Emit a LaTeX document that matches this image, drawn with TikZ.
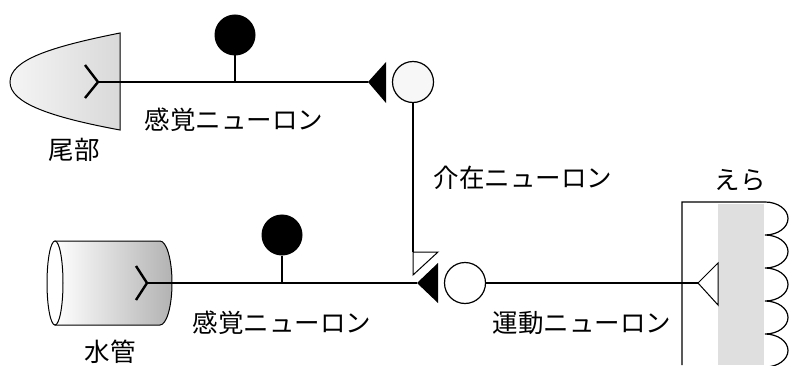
\documentclass[tikz,border=0pt]{standalone}
\usepackage{fontspec}
\newfontfamily\jp{Noto Sans CJK JP}
\usetikzlibrary{calc}
\tikzset{
  axon/.style = {line width=2.4pt},
  stem/.style = {line width=1.8pt},
  soma/.style = {circle, draw, line width=1pt, fill=black, minimum size=40pt, inner sep=0pt},
  cell/.style = {circle, draw, line width=1.2pt, fill=white, minimum size=41pt, inner sep=0pt},
  lbl/.style = {font=\jp\fontsize{25.5}{30}\selectfont, inner sep=0pt},
}

\begin{document}
\begin{tikzpicture}[x = 1pt, y = 1pt]
            \useasboundingbox (0,0) rectangle (792,365);
            \draw[line width=1pt, shading=axis, left color=gray!8, right color=gray!30] (120,332) .. controls (50,318) and (10,305) .. (10,283) .. controls (10,262) and (50,248) .. (120,235) -- cycle;
            \draw[line width=1pt, shading=axis, left color=white, right color=gray!60] (55,124) -- (160,124) arc[start angle=90, end angle=-90, x radius=12, y radius=42] -- (55,40) -- cycle;
            \draw[line width=1pt, fill=white] (55,82) ellipse[x radius=8, y radius=42];
            \fill[gray!25] (718,0) rectangle (764,161);
            \draw[line width=1.2pt] (682,0) -- (682,163) -- (765,163) \foreach \i in {1,...,5}{ arc[start angle=90, end angle=-90, x radius=23, y radius=16.5] };
            \coordinate (R1) at (98,283);
            \coordinate (T1) at (368,283);
            \coordinate (R2) at (147,82);
            \coordinate (T2) at (417,82);
            \coordinate (T3) at (698,82);
            \coordinate (T4) at (413,113);
            \node[soma] (S1) at (235,330) {};
            \node[soma] (S2) at (282,130) {};
            \node[cell, fill=gray!6] (I) at (413,283) {};
            \node[cell] (M) at (465,82) {};
            \draw[axon] (R1) -- (T1) (R2) -- (T2) (M) -- (T3);
            \draw[axon] (R1) -- ++(-13,17) (R1) -- ++(-13,-16) (R2) -- ++(-11,17) (R2) -- ++(-11,-17);
            \draw[stem] (S1) -- (S1 |- R1) (S2) -- (S2 |- R2) (I) -- (T4);
            \fill (T1) -- ++(18,20) -- ++(0,-41) -- cycle;
            \fill (T2) -- ++(21,20) -- ++(0,-40) -- cycle;
            \draw[line width=1pt, fill=white] (T4) -- ++(25,0) -- ++(-25,-23) -- cycle;
            \draw[line width=1pt, fill=white] (T3) -- ++(20,20) -- ++(0,-42) -- cycle;
            \node[lbl] (L1) at (74,215) {尾部};
            \node[lbl] (L2) at (234,245) {感覚ニューロン};
            \node[lbl] (L3) at (523,187) {介在ニューロン};
            \node[lbl] (L4) at (282,42) {感覚ニューロン};
            \node[lbl] (L5) at (582,42) {運動ニューロン};
            \node[lbl] (L6) at (110,13) {水管};
            \node[lbl] (L7) at (740,185) {えら};
\end{tikzpicture}
\end{document}
